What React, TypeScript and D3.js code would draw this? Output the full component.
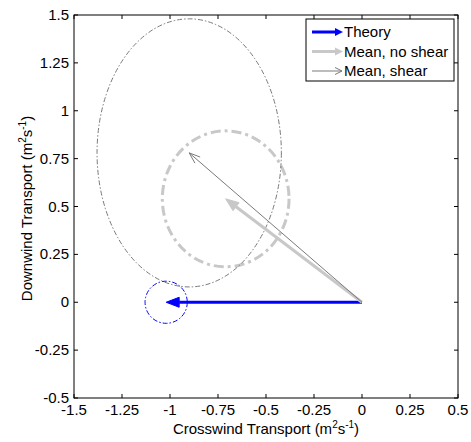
import * as d3 from "d3";

// ── Data ─────────────────────────────────────────────────
const seriesNames = ["Theory", "Mean, no shear", "Mean, shear"];
const arrowU = [-1.02, -0.71, -0.9];   // crosswind component
const arrowV = [0, 0.54, 0.78];        // downwind component
const spreadX = [0.11, 0.33, 0.48];    // ellipse half-width
const spreadY = [0.11, 0.355, 0.7];    // ellipse half-height

const xTicks = [-1.5, -1.25, -1, -0.75, -0.5, -0.25, 0, 0.25, 0.5];
const yTicks = [-0.5, -0.25, 0, 0.25, 0.5, 0.75, 1, 1.25, 1.5];

// ── Styles ───────────────────────────────────────────────
const COLORS = ["#0000ff", "#c8c8c8", "#7a7a7a"];
const WIDTHS = [3, 3, 1];
const RING_W = [1, 3, 1];
const FONT = "'Liberation Sans', Arial, sans-serif";
const FS = 15;

// ── Layout ───────────────────────────────────────────────
const W = 471;
const H = 442;
const margin = { top: 15, right: 13, bottom: 44, left: 74 };
const innerW = W - margin.left - margin.right;
const innerH = H - margin.top - margin.bottom;

const x = d3.scaleLinear().domain([-1.5, 0.5]).range([0, innerW]);
const y = d3.scaleLinear().domain([-0.5, 1.5]).range([innerH, 0]);

const fmt = (v: number) => String(v);

function arrowHead(x1: number, y1: number, x2: number, y2: number, len: number, half: number) {
  const a = Math.atan2(y2 - y1, x2 - x1);
  const bx = x2 - len * Math.cos(a);
  const by = y2 - len * Math.sin(a);
  const px = -Math.sin(a) * half;
  const py = Math.cos(a) * half;
  return { bx, by, p1: [bx + px, by + py], p2: [bx - px, by - py] };
}

function Units() {
  return (
    <>
      (m<tspan dy={-6} fontSize={10}>2</tspan>
      <tspan dy={6}>s</tspan><tspan dy={-6} fontSize={10}>-1</tspan><tspan dy={6}>)</tspan>
    </>
  );
}

export default function App() {
  const ox = x(0);
  const oy = y(0);
  return (
    <div style={{ position: "absolute", left: 0, top: 0 }}>
      <svg width={W} height={H} style={{ display: "block", background: "#fff" }} fontFamily={FONT}>
        <g transform={`translate(${margin.left},${margin.top})`}>
          {/* ellipses */}
          {seriesNames.map((n, i) => (
            <ellipse key={"e" + n}
              cx={x(arrowU[i])} cy={y(arrowV[i])}
              rx={x(spreadX[i]) - x(0)} ry={y(0) - y(spreadY[i])}
              fill="none" stroke={COLORS[i]} strokeWidth={RING_W[i]}
              strokeDasharray={i === 1 ? "10,4,3,4" : "5,2,1.5,2"} />
          ))}

          {/* arrows */}
          {seriesNames.map((n, i) => {
            const tx = x(arrowU[i]);
            const ty = y(arrowV[i]);
            const big = i < 2;
            const h = arrowHead(ox, oy, tx, ty, big ? 13 : 11, big ? 5 : 4);
            return (
              <g key={"a" + n}>
                <line x1={ox} y1={oy} x2={big ? h.bx : tx} y2={big ? h.by : ty}
                  stroke={COLORS[i]} strokeWidth={WIDTHS[i]} />
                {big ? (
                  <path d={`M${tx},${ty}L${h.p1[0]},${h.p1[1]}L${h.p2[0]},${h.p2[1]}Z`}
                    fill={COLORS[i]} stroke={COLORS[i]} strokeWidth={1} />
                ) : (
                  <path d={`M${h.p1[0]},${h.p1[1]}L${tx},${ty}L${h.p2[0]},${h.p2[1]}`}
                    fill="none" stroke={COLORS[i]} strokeWidth={1} />
                )}
              </g>
            );
          })}

          {/* box + ticks */}
          <rect x={0} y={0} width={innerW} height={innerH} fill="none" stroke="#000" strokeWidth={1} />
          {xTicks.map(t => (
            <g key={"x" + t}>
              <line x1={x(t)} x2={x(t)} y1={innerH} y2={innerH - 4} stroke="#000" />
              <line x1={x(t)} x2={x(t)} y1={0} y2={4} stroke="#000" />
              <text x={x(t)} y={innerH + 17} textAnchor="middle" fontSize={FS}>{fmt(t)}</text>
            </g>
          ))}
          {yTicks.map(t => (
            <g key={"y" + t}>
              <line x1={0} x2={4} y1={y(t)} y2={y(t)} stroke="#000" />
              <line x1={innerW} x2={innerW - 4} y1={y(t)} y2={y(t)} stroke="#000" />
              <text x={-5} y={y(t) + 5} textAnchor="end" fontSize={FS}>{fmt(t)}</text>
            </g>
          ))}

          {/* axis labels */}
          <text x={innerW / 2} y={innerH + 36} textAnchor="middle" fontSize={FS}>
            Crosswind Transport <Units />
          </text>
          <text transform={`translate(${-42},${innerH / 2 + 2}) rotate(-90)`} textAnchor="middle" fontSize={FS}>
            Downwind Transport <Units />
          </text>

          {/* legend */}
          <g transform={`translate(${innerW - 152},4)`}>
            <rect x={0} y={0} width={148} height={62} fill="#fff" stroke="#000" strokeWidth={1} />
            {seriesNames.map((n, i) => {
              const ly = 13 + i * 19.5;
              const big = i < 2;
              return (
                <g key={"l" + n}>
                  <line x1={6} x2={big ? 30 : 36} y1={ly} y2={ly} stroke={COLORS[i]} strokeWidth={WIDTHS[i]} />
                  {big ? (
                    <path d={`M37,${ly}L29,${ly - 4}L29,${ly + 4}Z`} fill={COLORS[i]} />
                  ) : (
                    <path d={`M29,${ly - 3.5}L36,${ly}L29,${ly + 3.5}`} fill="none" stroke={COLORS[i]} />
                  )}
                  <text x={38} y={ly + 5} fontSize={FS}>{n}</text>
                </g>
              );
            })}
          </g>
        </g>
      </svg>
    </div>
  );
}
